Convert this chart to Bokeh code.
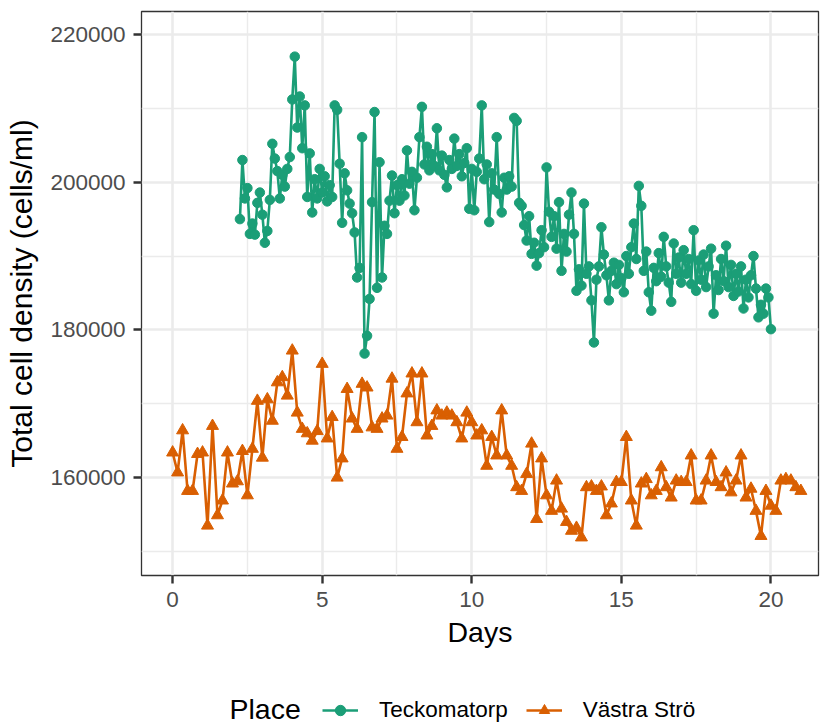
from bokeh.plotting import figure
from bokeh.layouts import column
from bokeh.models import (ColumnDataSource, FixedTicker, BasicTickFormatter, Legend,
                          LegendItem, Range1d, Label)
from bokeh.embed import file_html
from bokeh.resources import INLINE

# ---------------- data ----------------
place_names = ["Teckomatorp", "Västra Strö"]
place_colors = ["#1B9E77", "#D95F02"]

# Teckomatorp: sampled every 2 hours, starting at day 2.25
teck_start_day = 2.25
teck_step_days = 1 / 12
teck_cells = [
    195000, 203000, 197800, 199200, 193000, 194400, 192900, 197200, 198600, 195600,
    191800, 193400, 197600, 205200, 203200, 201500, 197800, 201000, 199400, 201800,
    203400, 211200, 217000, 207400, 211600, 204600, 210400, 198000, 203900, 195900,
    200400, 197800, 201800, 198600, 200800, 197400, 199600, 198000, 210400, 209800,
    202500, 194500, 201200, 198900, 197100, 195800, 193200, 187100, 188400, 206100,
    176800, 179200, 184200, 197300, 209500, 185700, 202700, 187100, 194100, 193000,
    197500, 200900, 195800, 199600, 197500, 200400, 198200, 204300, 199800, 201400,
    196200, 200600, 206100, 210200, 202400, 204800, 201600, 203800, 202200, 207300,
    201600, 203600, 201000, 199300, 203000, 201800, 205900, 202200, 203800, 200800,
    202600, 204600, 196400, 201800, 196200, 201400, 203200, 210400, 200400, 202400,
    194600, 201200, 199000, 206100, 198400, 195900, 200600, 199000, 200800, 199400,
    208700, 208300, 197200, 196800, 194200, 192100, 195400, 190300, 191800, 188700,
    190400, 193500, 191200, 202000, 196000, 192600, 195400, 191000, 197300, 188000,
    193000, 190600, 195600, 198600, 193000, 185300, 188200, 186000, 197100, 187600,
    188600, 184000, 178300, 186800, 188600, 193900, 190200, 187400, 184000, 188000,
    189100, 186200, 188800, 187000, 185100, 190000, 187600, 191200, 194400, 189600,
    199500, 196800, 188000, 190600, 185100, 182600, 188400, 186600, 190400, 187200,
    192600, 188600, 186400, 183800, 191700, 187600, 189800, 186400, 190800, 187600,
    189600, 186200, 193500, 185300, 189400, 186800, 190200, 185800, 188600, 191000,
    182200, 187400, 185400, 189600, 186600, 191400, 185800, 188800, 184600, 187600,
    185200, 188600, 182900, 186800, 184400, 187400, 190000, 185600, 181700, 183400,
    182200, 185600, 184400, 180100,
]

# Västra Strö: sampled every 4 hours, starting at day 0
vast_start_day = 0.0
vast_step_days = 1 / 6
vast_cells = [
    163400, 160700, 166400, 158200, 158200, 163200, 163400, 153500, 167000, 154900,
    156900, 163400, 159200, 159500, 163600, 157600, 163900, 170400, 162700, 170600,
    167700, 172900, 173600, 171100, 177200, 168800, 166600, 166000, 165000, 166300,
    175400, 165300, 168200, 160000, 162600, 172000, 168000, 166600, 172700, 172200,
    166800, 166600, 168000, 168400, 173400, 163900, 165500, 171400, 174100, 167500,
    174100, 165700, 167000, 169100, 168400, 168800, 168400, 167500, 165300, 168800,
    167500, 165700, 166400, 161600, 165500, 163000, 169100, 163000, 161600, 158700,
    158200, 160500, 164600, 154400, 162600, 157600, 155500, 159600, 155800, 154000,
    152800, 153200, 151900, 158700, 158800, 158200, 158800, 154900, 156500, 159400,
    159400, 165500, 156900, 153500, 159200, 159800, 157600, 158200, 161400, 158700,
    157300, 159600, 159400, 159400, 163000, 156900, 156900, 159600, 163000, 159400,
    158700, 160700, 158000, 159600, 163000, 157300, 158500, 155500, 152100, 158200,
    156200, 155500, 159600, 159800, 159600, 158700, 158200,
]

x_ticks = [0, 5, 10, 15, 20]
x_minor = [2.5, 7.5, 12.5, 17.5]
y_ticks = [160000, 180000, 200000, 220000]
y_minor = [150000, 170000, 190000, 210000]

teck_days = [teck_start_day + i * teck_step_days for i in range(len(teck_cells))]
vast_days = [vast_start_day + i * vast_step_days for i in range(len(vast_cells))]

src_t = ColumnDataSource(dict(x=teck_days, y=teck_cells))
src_v = ColumnDataSource(dict(x=vast_days, y=vast_cells))

FONT = "Liberation Sans"
LINE_W = 2.6
CIRCLE_SIZE = 9.5
TRI_SIZE = 12

p = figure(width=820, height=665, output_backend="svg", toolbar_location=None,
           x_range=Range1d(-1.04, 21.59), y_range=Range1d(146750, 223110),
           min_border_left=141, min_border_right=2, min_border_top=11,
           min_border_bottom=90)

p.background_fill_color = "white"
p.border_fill_color = "white"
p.outline_line_color = "#333333"
p.outline_line_width = 1.3

p.xaxis.ticker = FixedTicker(ticks=x_ticks, minor_ticks=x_minor)
p.yaxis.ticker = FixedTicker(ticks=y_ticks, minor_ticks=y_minor)
p.yaxis.formatter = BasicTickFormatter(use_scientific=False)

for g in (p.xgrid, p.ygrid):
    g.grid_line_color = "#EBEBEB"
    g.grid_line_width = 2.6
    g.minor_grid_line_color = "#EBEBEB"
    g.minor_grid_line_width = 1.4

for ax in (p.xaxis, p.yaxis):
    ax.axis_line_color = None
    ax.major_tick_line_color = "#333333"
    ax.major_tick_line_width = 2.4
    ax.major_tick_out = 8
    ax.major_tick_in = 0
    ax.minor_tick_line_color = None
    ax.major_label_text_font = FONT
    ax.major_label_text_font_size = "22.5px"
    ax.major_label_text_color = "#4D4D4D"
    ax.axis_label_text_font = FONT
    ax.axis_label_text_font_size = "28.5px"
    ax.axis_label_text_font_style = "normal"
    ax.axis_label_text_color = "black"

p.yaxis.axis_label_text_font_size = "30px"
p.xaxis.axis_label = "Days"
p.yaxis.axis_label = "Total cell density (cells/ml)"
p.xaxis.major_label_standoff = 8
p.yaxis.major_label_standoff = 8
p.xaxis.axis_label_standoff = 6
p.yaxis.axis_label_standoff = 9

p.line("x", "y", source=src_t, line_color=place_colors[0], line_width=LINE_W,
       line_join="round")
p.scatter("x", "y", source=src_t, marker="circle", size=CIRCLE_SIZE,
          fill_color=place_colors[0], line_color=place_colors[0])
p.line("x", "y", source=src_v, line_color=place_colors[1], line_width=LINE_W,
       line_join="round")
p.scatter("x", "y", source=src_v, marker="triangle", size=TRI_SIZE,
          fill_color=place_colors[1], line_color=place_colors[1])

# ---------------- legend strip below the chart ----------------
# (its frame is aligned with the main frame, which starts 141 px from the left)
lg = figure(width=820, height=61, output_backend="svg", toolbar_location=None,
            x_range=Range1d(0, 1), y_range=Range1d(0, 1),
            x_axis_type=None, y_axis_type=None, min_border=0)
lg.outline_line_color = None
lg.background_fill_color = "white"
lg.border_fill_color = "white"
lg.xgrid.visible = False
lg.ygrid.visible = False

# keys only (no data in view)
key_src = ColumnDataSource(dict(x=[5, 6], y=[5, 6]))
kl_t = lg.line("x", "y", source=key_src, line_color=place_colors[0], line_width=LINE_W)
ks_t = lg.scatter("x", "y", source=key_src, marker="circle", size=CIRCLE_SIZE,
                  fill_color=place_colors[0], line_color=place_colors[0])
kl_v = lg.line("x", "y", source=key_src, line_color=place_colors[1], line_width=LINE_W)
ks_v = lg.scatter("x", "y", source=key_src, marker="triangle", size=TRI_SIZE,
                  fill_color=place_colors[1], line_color=place_colors[1])

legend = Legend(items=[LegendItem(label=place_names[0], renderers=[kl_t, ks_t]),
                       LegendItem(label=place_names[1], renderers=[kl_v, ks_v])],
                orientation="horizontal", location=(181, 3),
                border_line_color=None, background_fill_alpha=0,
                padding=0, margin=0, spacing=18, glyph_width=36, glyph_height=26,
                label_standoff=21, label_text_font=FONT, label_text_font_size="22.5px",
                label_text_color="black")
lg.add_layout(legend)

lg.add_layout(Label(x=88, y=18, x_units="screen", y_units="screen", text="Place",
                    text_font=FONT, text_font_size="28.5px", text_color="black",
                    text_baseline="middle", text_align="left"))

layout = column(p, lg, spacing=0)
open("out.html", "w").write(file_html(layout, INLINE))
